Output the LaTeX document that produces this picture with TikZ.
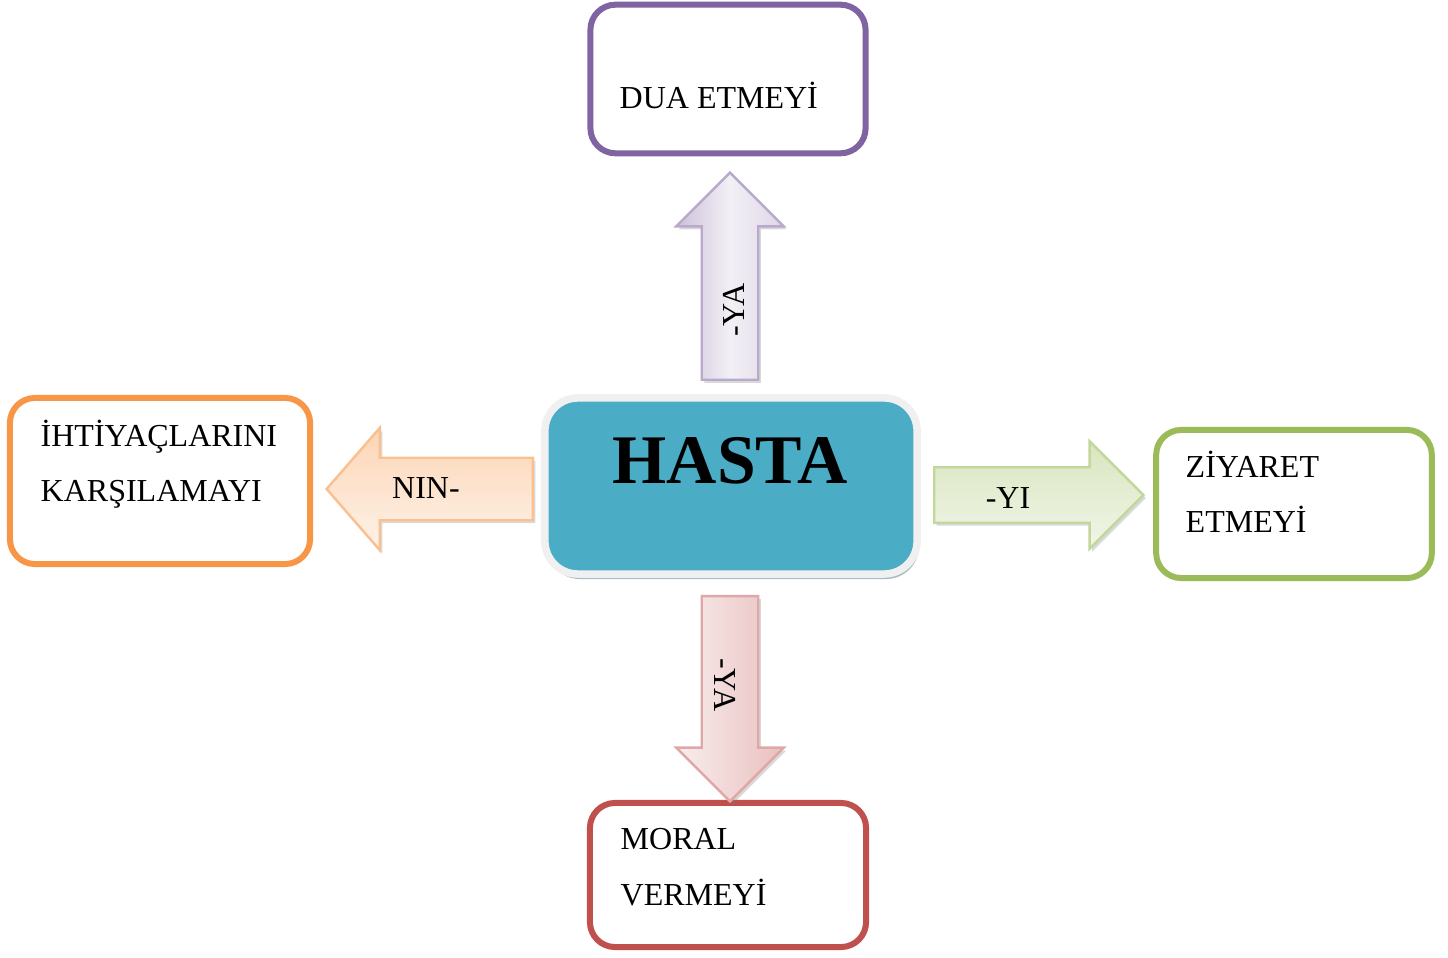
\documentclass[tikz,border=0pt]{standalone}
\usepackage{fontspec}
\setmainfont{Liberation Serif}
\usepackage{xcolor}
\usepackage{tikz}
\usetikzlibrary{shapes.arrows, shadows}

\definecolor{mor}{HTML}{8064A2}
\definecolor{turuncu}{HTML}{F79646}
\definecolor{yesil}{HTML}{9BBB59}
\definecolor{kirmizi}{HTML}{C0504D}
\definecolor{mavi}{HTML}{4BACC6}

\begin{document}
\begin{tikzpicture}[x=0.01cm, y=-0.01cm]
% Styles
    \tikzstyle{kutu} = [rectangle, draw, line width=0.06cm, rounded corners=0.25cm, fill=white, inner sep=0pt]
    \tikzstyle{yazi} = [inner sep=0pt, align=left, font=\fontsize{9.1}{15.65}\selectfont]
    \tikzstyle{fleche} = [single arrow, draw, line width=0.7pt, inner sep=0pt, text depth=0pt,
        single arrow tip angle=90, drop shadow={shadow xshift=0.025cm, shadow yshift=-0.03cm, opacity=0.3}]
    \tikzstyle{etiket} = [inner sep=0pt, font=\fontsize{9.1}{11}\selectfont]

    \useasboundingbox (0,0) rectangle (1448,958);

    % Merkez: HASTA
    \node [rectangle, draw=black!6, line width=0.075cm, rounded corners=0.33cm, fill=mavi,
           minimum width=3.72cm, minimum height=1.76cm,
           drop shadow={shadow xshift=0.02cm, shadow yshift=-0.05cm, fill=mavi!40!gray, opacity=0.6}]
           (hasta) at (731,486) {};
    \node [inner sep=0pt, font=\fontsize{19.8}{22}\selectfont\bfseries] (hastayazi) at (730,461) {HASTA};

    % Kutular
    \node [kutu, draw=mor, minimum width=2.75cm, minimum height=1.485cm] (dua) at (728,79) {};
    \node [kutu, draw=turuncu, minimum width=3.00cm, minimum height=1.66cm] (ihtiyac) at (160,481) {};
    \node [kutu, draw=yesil, minimum width=2.755cm, minimum height=1.48cm] (ziyaret) at (1294,504) {};
    \node [kutu, draw=kirmizi, minimum width=2.76cm, minimum height=1.44cm] (moral) at (728,875) {};

    \node [yazi, anchor=base west] (duayazi) at (619,109) {DUA ETMEYİ};
    \node [yazi, anchor=base west] (ihtiyacyazi) at (40,502) {İHTİYAÇLARINI\\KARŞILAMAYI};
    \node [yazi, anchor=base west] (ziyaretyazi) at (1185,533) {ZİYARET\\ETMEYİ};
    \node [yazi, anchor=base west] (moralyazi) at (620,905) {MORAL\\VERMEYİ};

    % Oklar
    \node [fleche, draw=mor!55, left color=mor!40, right color=mor!26, middle color=mor!10,
           shape border rotate=90, anchor=tail, text width=0.54cm, text height=0pt,
           single arrow head extend=0.255cm, minimum height=2.07cm] (yukari) at (730,381) {};
    \node [fleche, draw=yesil!60, top color=yesil!38, bottom color=yesil!14,
           anchor=tail, text height=0.53cm,
           single arrow head extend=0.26cm, minimum height=2.09cm] (sag) at (933,495) {};
    \node [fleche, draw=kirmizi!50, left color=kirmizi!10, right color=kirmizi!36,
           shape border rotate=270, anchor=tail, text width=0.54cm, text height=0pt,
           single arrow head extend=0.255cm, minimum height=2.05cm] (asagi) at (730,595) {};
    \node [fleche, draw=turuncu!60, top color=turuncu!40, bottom color=turuncu!12,
           shape border rotate=180, anchor=tail, text height=0.60cm, single arrow tip angle=98,
           single arrow head extend=0.30cm, minimum height=2.06cm] (sol) at (534,489) {};

    % Ok etiketleri
    \node [etiket, rotate=90] (yukariyazi) at (734,310) {-YA};
    \node [etiket] (sagyazi) at (1008,498) {-YI};
    \node [etiket, rotate=-90] (asagiyazi) at (725,685) {-YA};
    \node [etiket] (solyazi) at (426,488) {NIN-};
\end{tikzpicture}
\end{document}
